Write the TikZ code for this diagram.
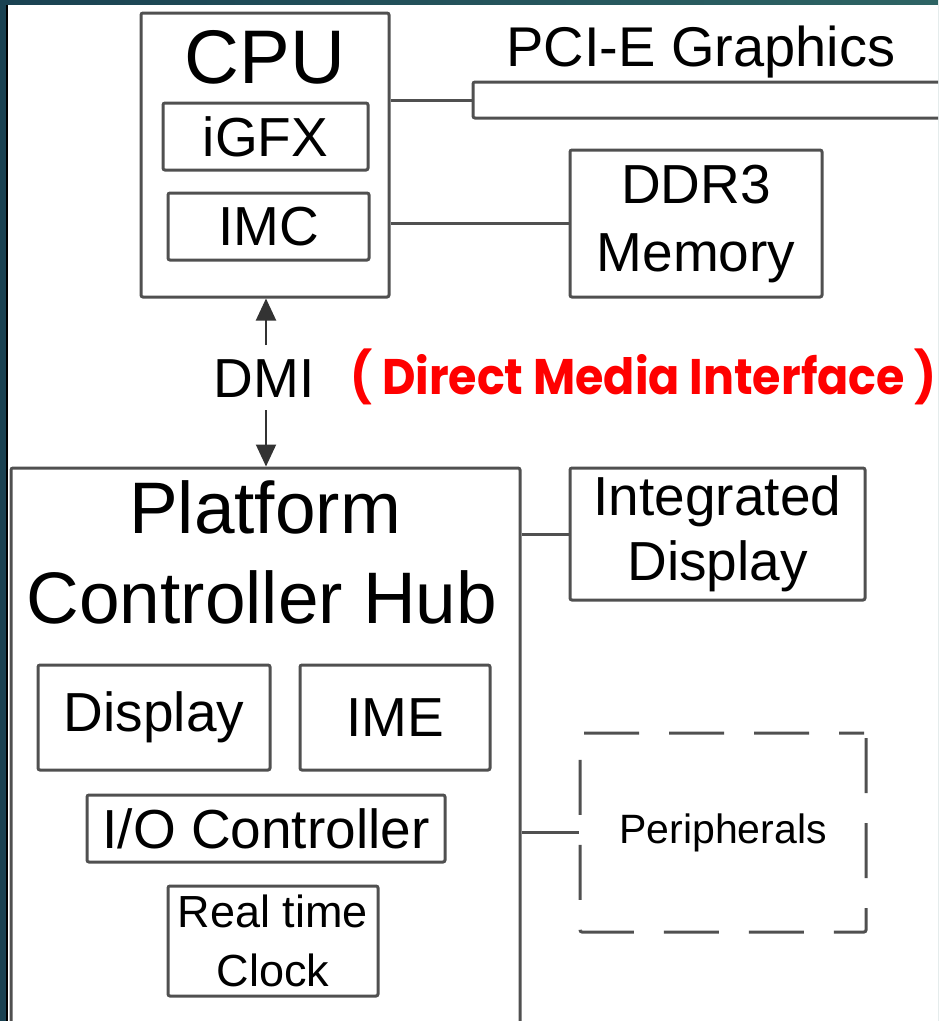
\documentclass[tikz,border=0pt]{standalone}
\usepackage{fontspec}
\setmainfont{Liberation Sans}
\newfontfamily\dmifont{Poppins}[FakeStretch=0.92]
\usetikzlibrary{arrows.meta}
\definecolor{linegray}{RGB}{80,80,80}
\definecolor{slideteal}{RGB}{26,66,82}
\definecolor{slidetealb}{RGB}{46,100,100}
\definecolor{dmired}{RGB}{255,0,0}
\newcommand{\pxfont}[2]{\fontsize{#1}{#2}\selectfont}
\tikzset{
  box/.style={draw=linegray, line width=3pt, rounded corners=2pt, inner sep=0pt, align=center},
  wire/.style={draw=linegray, line width=3pt},
  dmiarrow/.style={draw=black!80, line width=2pt, -{Triangle[width=20pt,length=22pt]}},
  peribox/.style={box, dash pattern=on 55pt off 30pt, dash phase=30pt},
}
\begin{document}
\begin{tikzpicture}[x=1pt, y=-1pt, thick]
            \useasboundingbox (0,0) rectangle (938,1021);
            \clip (0,0) rectangle (938,1021);
            \fill[left color=slideteal, right color=slidetealb] (0,0) rectangle (938,1021);
            \fill[white] (8,5) rectangle (938,1021);
            \draw[line width=2pt, black] (7,5) -- (7,1021);
            \draw (265,155) node[box, minimum width=248pt, minimum height=284pt] (cpu) {};
            \draw (265,83) node[anchor=base, inner sep=0pt, font=\pxfont{76}{90}] (cpulbl) {CPU};
            \draw (265.5,136.5) node[box, minimum width=205pt, minimum height=67pt, font=\pxfont{55}{66}] (igfx) {iGFX};
            \draw (268.5,226.5) node[box, minimum width=201pt, minimum height=67pt, font=\pxfont{55}{66}] (imc) {IMC};
            \draw (701,66) node[anchor=base, inner sep=0pt, font=\pxfont{56}{66}] (pcielbl) {PCI-E Graphics};
            \draw (710,100) node[box, minimum width=474pt, minimum height=36pt] (pcie) {};
            \draw (696,223.5) node[box, minimum width=252pt, minimum height=147pt, font=\pxfont{55}{68}] (ddr) {DDR3\\Memory};
            \draw (264,397) node[anchor=base, inner sep=0pt, font=\pxfont{55}{66}] (dmi) {DMI};
            \draw (350,394) node[anchor=base west, inner sep=0pt, text=dmired, font=\dmifont\bfseries\pxfont{50}{60}] (dmifull) {( Direct Media Interface )};
            \draw (265.5,754) node[box, minimum width=509pt, minimum height=572pt] (pch) {};
            \draw (265,533) node[anchor=base, inner sep=0pt, font=\pxfont{73}{86}] (pchlblA) {Platform};
            \draw (262,623) node[anchor=base, inner sep=0pt, font=\pxfont{73}{86}] (pchlblB) {Controller Hub};
            \draw (154,717.5) node[box, minimum width=232pt, minimum height=105pt, font=\pxfont{55}{66}] (disp) {Display};
            \draw (395,717.5) node[box, minimum width=190pt, minimum height=105pt, font=\pxfont{55}{66}] (ime) {IME};
            \draw (266,828.5) node[box, minimum width=358pt, minimum height=67pt, font=\pxfont{55}{66}] (ioc) {I/O Controller};
            \draw (273,941) node[box, minimum width=210pt, minimum height=110pt, font=\pxfont{45}{59}] (rtc) {Real time\\Clock};
            \draw (717.5,534) node[box, minimum width=295pt, minimum height=132pt, font=\pxfont{55}{65}] (intdisp) {Integrated\\Display};
            \draw (723,832.5) node[peribox, minimum width=286pt, minimum height=199pt, font=\pxfont{41}{50}] (periph) {Peripherals};
            \coordinate (dmiup) at (266,345);
            \coordinate (dmidown) at (266,410);
            \draw[wire] (pcie.west -| cpu.east) -- (pcie.west)
                  (ddr.west -| cpu.east) -- (ddr.west)
                  (intdisp.west -| pch.east) -- (intdisp.west)
                  (periph.west -| pch.east) -- (periph.west);
            \draw[dmiarrow] (dmiup) -- (cpu.south -| dmiup);
            \draw[dmiarrow] (dmidown) -- (pch.north -| dmidown);
        \end{tikzpicture}
\end{document}
